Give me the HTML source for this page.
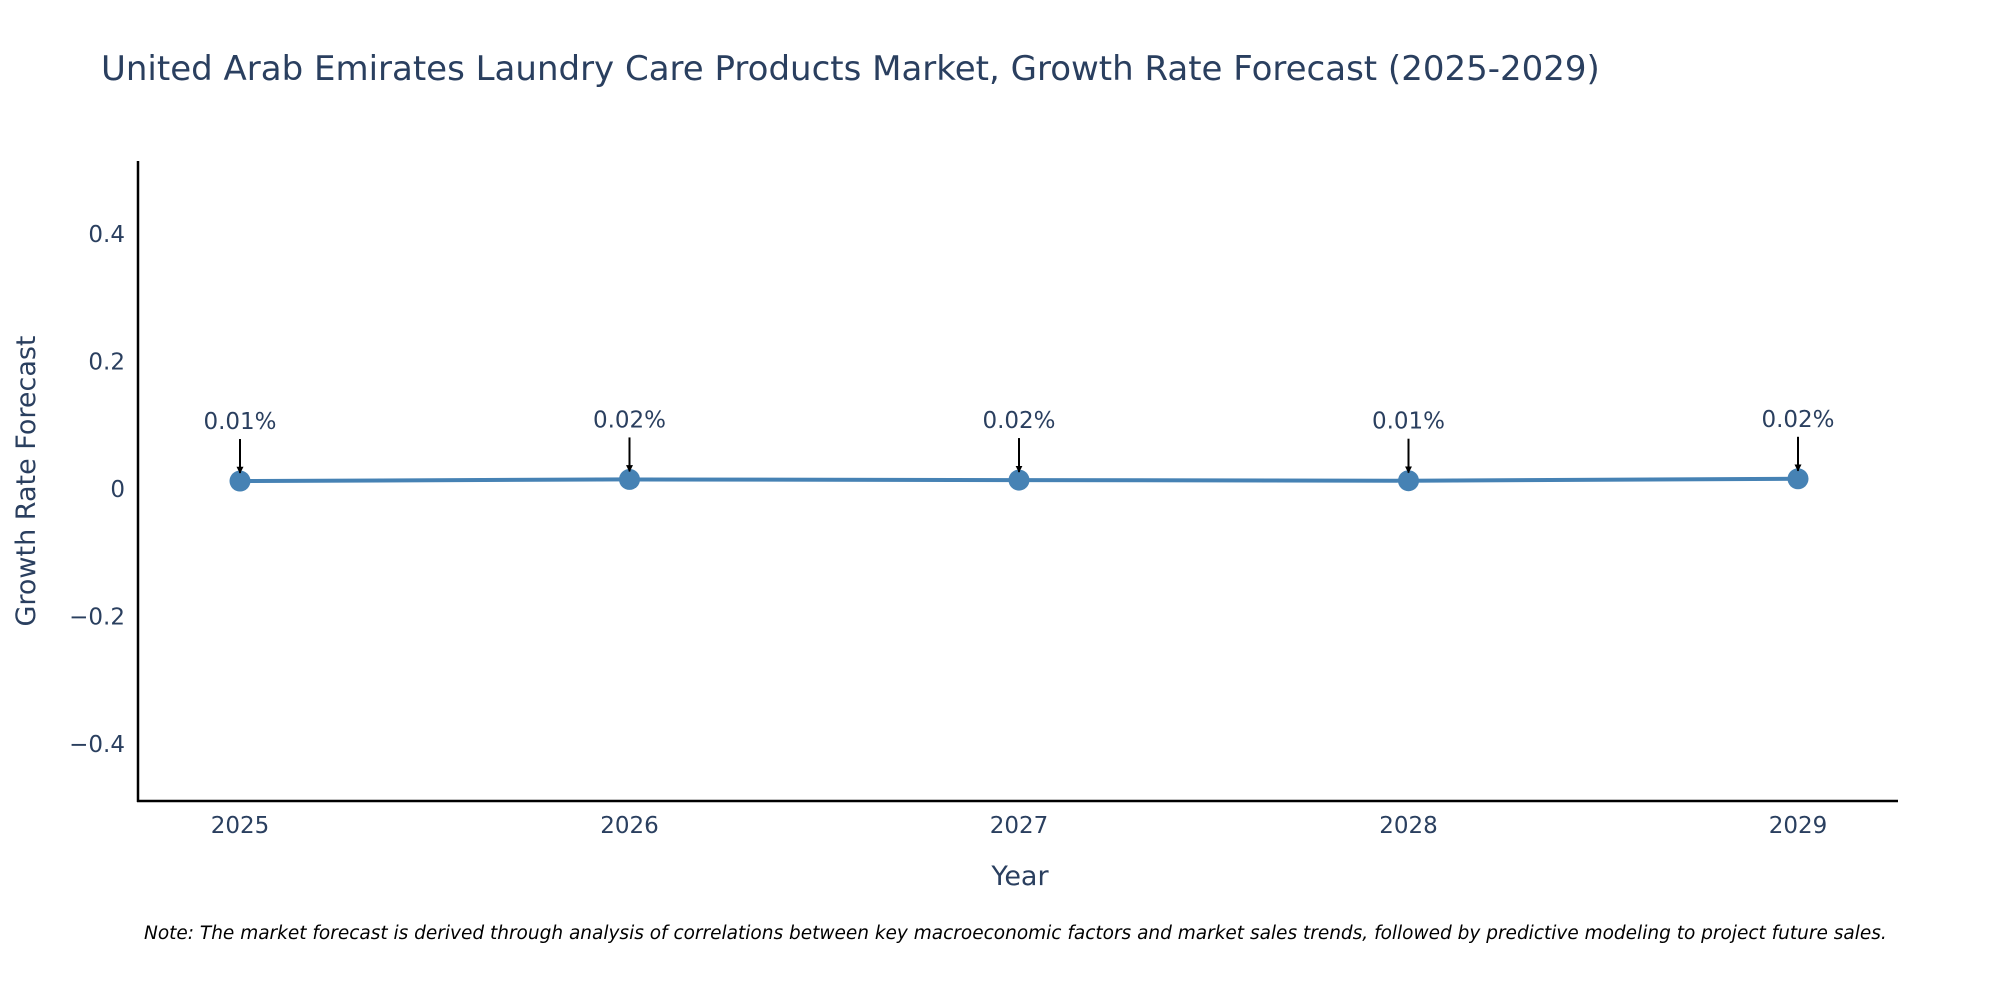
<!DOCTYPE html>
<html><head><meta charset="utf-8"><style>
body{margin:0;background:#fff;}
svg{display:block;font-family:"DejaVu Sans","Liberation Sans",sans-serif;}
</style></head><body>
<svg id="chart" width="2000" height="1000" viewBox="0 0 2000 1000" xmlns="http://www.w3.org/2000/svg">
<text x="101" y="80" font-size="34" fill="#2a3f5f">United Arab Emirates Laundry Care Products Market, Growth Rate Forecast (2025-2029)</text>
<g id="yticks"></g>
<g id="xticks"></g>
<line x1="138" y1="161" x2="138" y2="802" stroke="#000" stroke-width="2.5"/>
<line x1="137" y1="801" x2="1898" y2="801" stroke="#000" stroke-width="2.5"/>
<g id="series"></g>
<g id="annots"></g>
<text x="1020" y="885" font-size="27" fill="#2a3f5f" text-anchor="middle">Year</text>
<text transform="translate(35,481) rotate(-90)" font-size="27" fill="#2a3f5f" text-anchor="middle">Growth Rate Forecast</text>
<text x="144" y="939" font-size="18.5" font-style="italic" fill="#000">Note: The market forecast is derived through analysis of correlations between key macroeconomic factors and market sales trends, followed by predictive modeling to project future sales.</text>
<defs><marker id="ah" viewBox="0 0 10 10" refX="9" refY="5" markerWidth="7" markerHeight="7" markerUnits="userSpaceOnUse" orient="auto"><path d="M0,0 L10,5 L0,10 z" fill="#000"/></marker></defs>
</svg>
<script>
const years = ["2025","2026","2027","2028","2029"];
const values = [0.0125, 0.015, 0.014, 0.013, 0.016];
const labels = ["0.01%","0.02%","0.02%","0.01%","0.02%"];
const yTickValues = [-0.4,-0.2,0,0.2,0.4];
const yTickLabels = ["\u22120.4","\u22120.2","0","0.2","0.4"];
const NS="http://www.w3.org/2000/svg";
function xs(i){return 240 + i*389.5;}
function ys(v){return 489 - v*638;}
function mk(tag,attrs,parent){const e=document.createElementNS(NS,tag);for(const k in attrs)e.setAttribute(k,attrs[k]);parent.appendChild(e);return e;}
const yt=document.getElementById('yticks');
yTickValues.forEach((v,i)=>{const t=mk('text',{x:125,y:ys(v)+8,'font-size':23,fill:'#2a3f5f','text-anchor':'end'},yt);


t.textContent=yTickLabels[i];});
const xt=document.getElementById('xticks');
years.forEach((y,i)=>{const t=mk('text',{x:xs(i),y:833,'font-size':23,fill:'#2a3f5f','text-anchor':'middle'},xt);


t.textContent=y;});
const s=document.getElementById('series');
const pl=mk('polyline',{points:values.map((v,i)=>xs(i)+','+ys(v)).join(' '),fill:'none',stroke:'#4682b4','stroke-width':4},s);


const an=document.getElementById('annots');
values.forEach((v,i)=>{const c=mk('circle',{cx:xs(i),cy:ys(v),r:10.5,fill:'#4682b4'},s);


const py=ys(v);
const l=mk('line',{x1:xs(i),y1:py-42,x2:xs(i),y2:py-8,stroke:'#000','stroke-width':2,'marker-end':'url(#ah)'},an);


const t=mk('text',{x:xs(i),y:py-52,'font-size':23,fill:'#2a3f5f','text-anchor':'middle'},an);


t.textContent=labels[i];});
</script>
</body></html>
